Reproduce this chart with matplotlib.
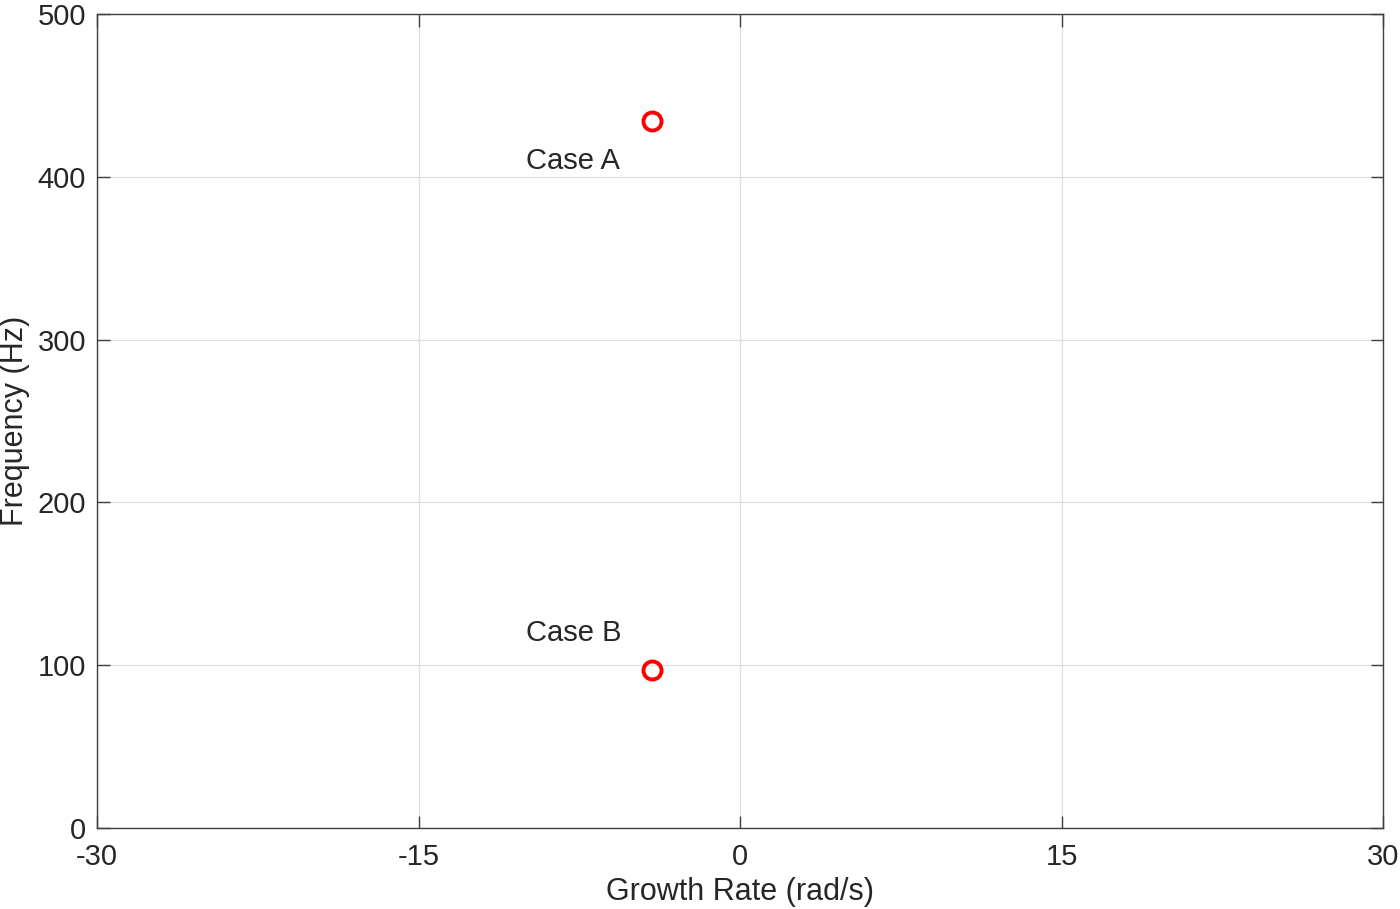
import matplotlib
matplotlib.use("Agg")
import matplotlib.pyplot as plt

plt.rcParams['font.family'] = ['Liberation Sans', 'DejaVu Sans']
plt.rcParams['axes.unicode_minus'] = False

# growth rate (rad/s) and frequency (Hz) of the two cases
growth = [-4.1, -4.1]
freq = [434, 97]
names = ["Case A", "Case B"]
label_pos = [(-10, 410), (-10, 120)]

fig = plt.figure(figsize=(14, 9.09), dpi=100)
ax = fig.add_axes([0.0693, 0.0891, 0.9186, 0.8955])

ax.plot(growth, freq, 'o', color='red', markerfacecolor='none',
        markersize=13, markeredgewidth=2.8, linestyle='none')
for nm, (tx, ty) in zip(names, label_pos):
    ax.text(tx, ty, nm, fontsize=21, color='#262626', va='center', ha='left')

ax.set_xlim(-30, 30)
ax.set_ylim(0, 500)
ax.set_xticks([-30, -15, 0, 15, 30])
ax.set_yticks([0, 100, 200, 300, 400, 500])
ax.grid(True, color='#dfdfdf', linewidth=0.9)
ax.set_axisbelow(True)
ax.tick_params(direction='in', top=True, right=True, length=9, width=1,
               color='#404040', labelsize=21, labelcolor='#262626')
ax.tick_params(axis='x', pad=11)
ax.tick_params(axis='y', pad=8)
for s in ax.spines.values():
    s.set_color('#404040')
    s.set_linewidth(1)
ax.set_xlabel("Growth Rate (rad/s)", fontsize=22, color='#262626', labelpad=4)
ax.set_ylabel("Frequency (Hz)", fontsize=22, color='#262626', labelpad=5)

fig.savefig("out.png", dpi=100)
